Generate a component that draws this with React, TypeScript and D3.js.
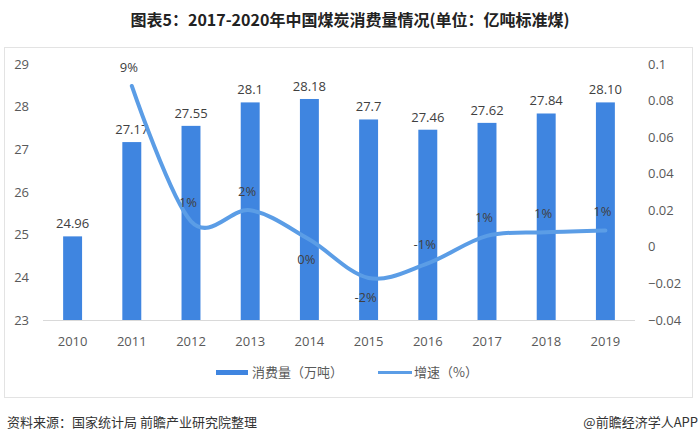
import React from 'react';
import * as d3 from 'd3';

const years = ['2010', '2011', '2012', '2013', '2014', '2015', '2016', '2017', '2018', '2019'];
const consumption = [24.96, 27.17, 27.55, 28.1, 28.18, 27.7, 27.46, 27.62, 27.84, 28.1];
const consumptionLabels = ['24.96', '27.17', '27.55', '28.1', '28.18', '27.7', '27.46', '27.62', '27.84', '28.10'];
const growthYears = ['2011', '2012', '2013', '2014', '2015', '2016', '2017', '2018', '2019'];
const growth = [0.088, 0.014, 0.02, 0.004, -0.017, -0.009, 0.006, 0.008, 0.009];
const growthLabels = ['9%', '1%', '2%', '0%', '-2%', '-1%', '1%', '1%', '1%'];
const leftTicks = [23, 24, 25, 26, 27, 28, 29];
const rightTicks = [-0.04, -0.02, 0, 0.02, 0.04, 0.06, 0.08, 0.1];

const title = '图表5：2017-2020年中国煤炭消费量情况(单位：亿吨标准煤)';
const source = '资料来源：国家统计局 前瞻产业研究院整理';
const credit = '@前瞻经济学人APP';

const font = '"Open Sans", "Noto Sans CJK SC", sans-serif';
const cjk = '"Noto Sans CJK SC", sans-serif';
const barColor = '#3f85e0';
const lineColor = '#5b9de6';

const App: React.FC = () => {
  const width = 700;
  const height = 444;
  const top = 64;
  const bottom = 320;

  const x = d3.scaleBand().domain(years).range([43, 635]).paddingInner(0.68).paddingOuter(0.34);
  const yL = d3.scaleLinear().domain([23, 29]).range([bottom, top]);
  const yR = d3.scaleLinear().domain([-0.04, 0.1]).range([bottom, top]);
  const cx = (d: string) => (x(d) ?? 0) + x.bandwidth() / 2;

  const line = d3.line<number>()
    .x((_, i) => cx(growthYears[i]))
    .y(d => yR(d))
    .curve(d3.curveCardinal.tension(0));

  const below = new Set(['2014', '2015']);

  return (
    <div style={{ position: 'absolute', left: 0, top: 0 }}>
      <svg width={width} height={height} style={{ display: 'block', background: '#fff' }}>
        <text x={350} y={26} textAnchor="middle" fontFamily={cjk} fontWeight="bold" fontSize={16} fill="#222">
          {title}
        </text>
        <rect x={4.5} y={47.5} width={688} height={350} fill="none" stroke="#e3e3e3" />

        {leftTicks.map(t => (
          <text key={t} x={29} y={yL(t)} dy="0.35em" textAnchor="end" fontFamily={font} fontSize={13} fill="#595959">
            {t}
          </text>
        ))}
        {rightTicks.map(t => (
          <text key={t} x={648} y={yR(t)} dy="0.35em" fontFamily={font} fontSize={13} fill="#595959">
            {d3.format('~g')(+t.toFixed(2))}
          </text>
        ))}

        {years.map((y, i) => (
          <g key={y}>
            <rect x={x(y)} y={yL(consumption[i])} width={x.bandwidth()} height={bottom - yL(consumption[i])} fill={barColor} />
            <text x={cx(y)} y={yL(consumption[i]) - 8} textAnchor="middle" fontFamily={font} fontSize={13} fill="#404040">
              {consumptionLabels[i]}
            </text>
            <text x={cx(y)} y={346} textAnchor="middle" fontFamily={font} fontSize={13} fill="#595959">
              {y}
            </text>
          </g>
        ))}
        <line x1={43} x2={635} y1={bottom + 0.5} y2={bottom + 0.5} stroke="#d9d9d9" />

        <path d={line(growth) ?? ''} fill="none" stroke={lineColor} strokeWidth={4} strokeLinecap="round" />
        {growthYears.map((y, i) => (
          <text
            key={y}
            x={cx(y) - 3}
            y={below.has(y) ? yR(growth[i]) + 24 : yR(growth[i]) - 14}
            textAnchor="middle"
            fontFamily={font}
            fontSize={13}
            fill="#404040"
          >
            {growthLabels[i]}
          </text>
        ))}

        <rect x={216} y={370} width={32} height={5} fill={barColor} />
        <text x={252} y={372} dy="0.35em" fontFamily={cjk} fontSize={13} fill="#595959">消费量（万吨）</text>
        <line x1={378} x2={412} y1={372.5} y2={372.5} stroke={lineColor} strokeWidth={3} />
        <text x={414} y={372} dy="0.35em" fontFamily={cjk} fontSize={13} fill="#595959">增速（%）</text>

        <text x={7} y={422} dy="0.35em" fontFamily={cjk} fontSize={13} fill="#333">{source}</text>
        <text x={698} y={422} dy="0.35em" textAnchor="end" fontFamily={cjk} fontSize={13} fill="#333">{credit}</text>
      </svg>
    </div>
  );
};

export default App;
